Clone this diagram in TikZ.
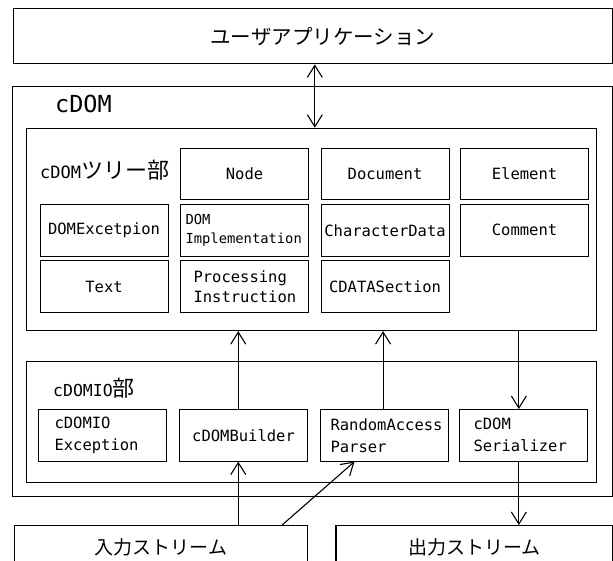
\documentclass[tikz,border=0pt]{standalone}
\usepackage{fontspec}
\newfontfamily\mono{DejaVu Sans Mono}
\newfontfamily\jp{Noto Sans CJK JP}
\usetikzlibrary{arrows.meta}
\newcommand\ind[1]{\hspace*{#1pt}}
\newcommand\fs[2]{\fontsize{#1}{#2}\selectfont}
\begin{document}
\begin{tikzpicture}[x=1pt,y=-1pt,
  frame/.style={draw, line width=1.1pt, anchor=north west, inner sep=0pt},
  tbox/.style={frame, minimum width=128pt, minimum height=51.5pt, font=\mono\fs{15.5}{19}, align=center},
  ibox/.style={tbox, text width=128pt, align=left},
  lab/.style={anchor=west, inner sep=0pt},
  arr/.style={line width=1.1pt, -{Straight Barb[length=12pt,width=15pt]}},
  darr/.style={line width=1.1pt, {Straight Barb[length=12pt,width=15pt]}-{Straight Barb[length=12pt,width=15pt]}},
]
\fill[white] (0,0) rectangle (613,560);
\useasboundingbox (0,0) rectangle (613,560);

\node[frame, minimum width=599.5pt, minimum height=55pt] (app) at (12.5,8.3) {};
\node[font=\jp\fs{20.5}{24}, inner sep=0pt] (apptext) at ([xshift=10pt]app.center) {ユーザアプリケーション};

\node[frame, minimum width=600pt, minimum height=410pt] (cdom) at (12,85.5) {};
\node[lab, font=\mono\fs{23.5}{28}] (cdomlab) at (55,104) {cDOM};

\node[frame, minimum width=570pt, minimum height=202.3pt] (tree) at (26,127.7) {};
\node[lab] (treelab) at (40,170) {{\mono\fs{17}{20}cDOM}{\jp\fs{22}{24}ツリー部}};

\node[tbox] (node) at (180,147.5) {Node};
\node[tbox] (document) at (320.5,147.5) {Document};
\node[tbox] (element) at (460,147.5) {Element};
\node[tbox] (domexc) at (39.5,204) {DOMExcetpion};
\node[ibox, font=\mono\fs{13.8}{19}] (domimpl) at (180,204) {\ind{5}DOM\\\ind{5}Implementation};
\node[tbox] (chardata) at (320.5,204) {CharacterData};
\node[tbox] (comment) at (460,204) {Comment};
\node[tbox] (text) at (39.5,260.3) {Text};
\node[ibox, font=\mono\fs{15.5}{20.7}] (procinst) at (180,260.3) {\ind{13}Processing\\\ind{13}Instruction};
\node[tbox] (cdata) at (320.5,260.3) {CDATASection};

\node[frame, minimum width=570pt, minimum height=121pt] (io) at (26,361) {};
\node[lab] (iolab) at (53,388) {{\mono\fs{16.5}{20}cDOMIO}{\jp\fs{22}{24}部}};

\node[ibox, font=\mono\fs{15.5}{22.7}] (ioexc) at (38,409) {\ind{16}cDOMIO\\\ind{16}Exception};
\node[tbox] (bld) at (179,409) {cDOMBuilder};
\node[ibox, font=\mono\fs{15.5}{22}] (rap) at (319.5,409) {\ind{10.5}RandomAccess\\\ind{10.5}Parser};
\node[ibox, font=\mono\fs{15.5}{22}] (ser) at (459,409) {\ind{14}cDOM\\\ind{14}Serializer};

\node[frame, minimum width=292.7pt, minimum height=44pt, font=\jp\fs{19}{22}] (in) at (14.3,525) {入力ストリーム};
\node[frame, minimum width=276.6pt, minimum height=44pt, font=\jp\fs{19}{22}] (out) at (335.4,525) {出力ストリーム};

\draw[darr] ([xshift=2pt]app.south) -- ([xshift=2pt]app.south |- tree.north);
\draw[arr] ([xshift=-5.3pt]bld.north) -- ([xshift=-5.3pt]bld.north |- tree.south);
\draw[arr] ([xshift=-1pt]rap.north) -- ([xshift=-1pt]rap.north |- tree.south);
\draw[arr] ([xshift=-4.7pt]ser.north |- tree.south) -- ([xshift=-4.7pt]ser.north);
\draw[arr] ([xshift=-4.7pt]ser.south) -- ([xshift=-4.7pt]ser.south |- out.north);
\draw[arr] ([xshift=-5.3pt]bld.south |- in.north) -- ([xshift=-5.3pt]bld.south);
\draw[arr] ([xshift=-26pt]in.north east) -- ([xshift=-29.5pt]rap.south);
\end{tikzpicture}
\end{document}
